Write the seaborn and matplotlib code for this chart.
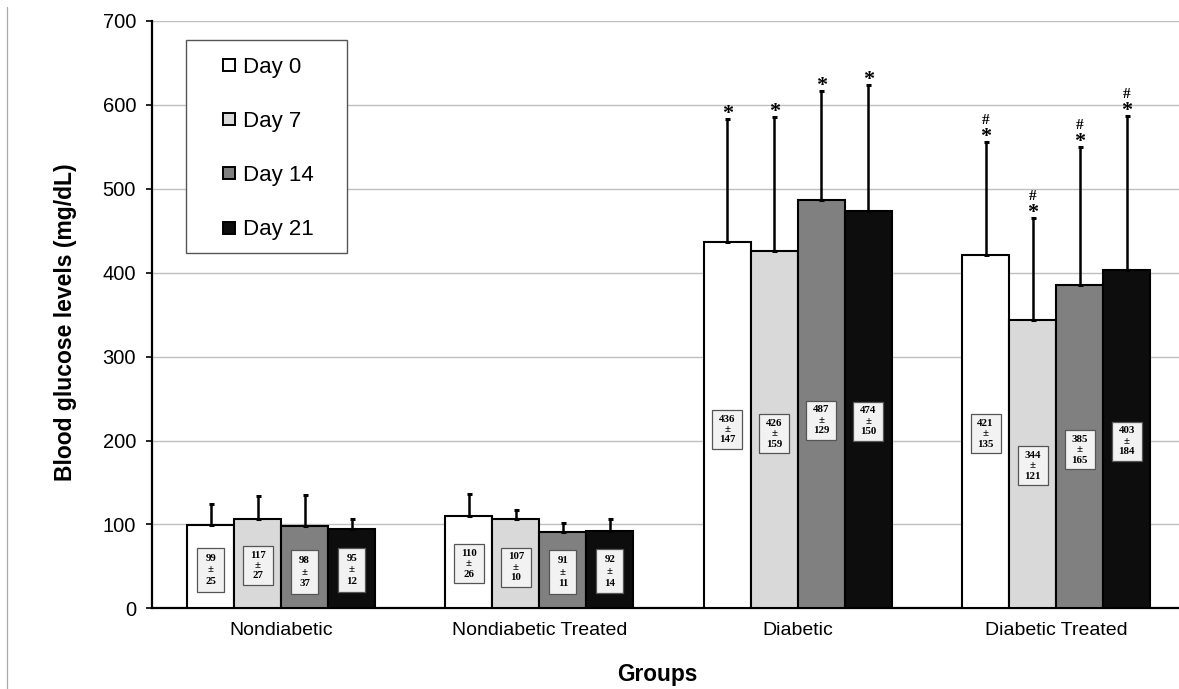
import matplotlib
matplotlib.use("Agg")
import matplotlib.pyplot as plt
import matplotlib.transforms as mtransforms
from matplotlib.lines import Line2D
from matplotlib.patches import Rectangle
import seaborn as sns
import pandas as pd
import numpy as np

# ---- data ----
groups = ["Nondiabetic", "Nondiabetic Treated", "Diabetic", "Diabetic Treated"]
days = ["Day 0", "Day 7", "Day 14", "Day 21"]

mean_day0 = [99, 110, 436, 421]
mean_day7 = [107, 107, 426, 344]
mean_day14 = [98, 91, 487, 385]
mean_day21 = [95, 92, 474, 403]

sd_day0 = [25, 26, 147, 135]
sd_day7 = [27, 10, 159, 121]
sd_day14 = [37, 11, 129, 165]
sd_day21 = [12, 14, 150, 184]

# values printed in the boxes
printed_day0 = [99, 110, 436, 421]
printed_day7 = [117, 107, 426, 344]
printed_day14 = [98, 91, 487, 385]
printed_day21 = [95, 92, 474, 403]

# significance marks: asterisk (vs nondiabetic) and hash (vs diabetic)
star_day0 = [False, False, True, True]
star_day7 = [False, False, True, True]
star_day14 = [False, False, True, True]
star_day21 = [False, False, True, True]
hash_day0 = [False, False, False, True]
hash_day7 = [False, False, False, True]
hash_day14 = [False, False, False, True]
hash_day21 = [False, False, False, True]

# vertical placement of the value boxes (data units)
box_y_day0 = [46, 53, 213, 208]
box_y_day7 = [51, 49, 208, 170]
box_y_day14 = [43, 43, 224, 189]
box_y_day21 = [46, 44, 223, 199]

colors = ["#ffffff", "#d9d9d9", "#808080", "#0d0d0d"]

means = [mean_day0, mean_day7, mean_day14, mean_day21]
sds = [sd_day0, sd_day7, sd_day14, sd_day21]
printed = [printed_day0, printed_day7, printed_day14, printed_day21]
stars = [star_day0, star_day7, star_day14, star_day21]
hashes = [hash_day0, hash_day7, hash_day14, hash_day21]
box_ys = [box_y_day0, box_y_day7, box_y_day14, box_y_day21]

rows = []
for d, m in zip(days, means):
    for g, v in zip(groups, m):
        rows.append({"group": g, "day": d, "value": v})
df = pd.DataFrame(rows)

# ---- style ----
sns.set_style("white")
plt.rcParams["font.family"] = ["Liberation Sans", "DejaVu Sans"]
for k in ["text.color", "axes.labelcolor", "xtick.color", "ytick.color"]:
    plt.rcParams[k] = "black"

serif = ["Liberation Serif", "DejaVu Serif"]

W, H = 1179, 689
DPI = 100
fig = plt.figure(figsize=(W / DPI, H / DPI), dpi=DPI)
ax = fig.add_axes([152 / W, (H - 608.3) / H, (W - 152) / W, (608.3 - 21) / H])

sns.barplot(data=df, x="group", y="value", hue="day", order=groups, hue_order=days,
            palette=colors, edgecolor="black", linewidth=1.5, width=0.728,
            errorbar=None, legend=False, ax=ax, saturation=1, zorder=3)

bar_containers = list(ax.containers)
for ci, cont in enumerate(bar_containers):
    for gi, bar in enumerate(cont.patches):
        xc = bar.get_x() + bar.get_width() / 2
        h = bar.get_height()
        sd = sds[ci][gi]
        ax.errorbar([xc], [h], yerr=[[0], [sd]], fmt="none", ecolor="black",
                    elinewidth=1.8, capsize=1.8, capthick=2.2, zorder=4)
        # value box (fixed pixel size, centred on the label position)
        yb = box_ys[ci][gi]
        three = printed[ci][gi] >= 100
        bw, bh = (30, 39) if three else (27, 44)
        trans = fig.dpi_scale_trans + mtransforms.ScaledTranslation(xc, yb, ax.transData)
        ax.add_patch(Rectangle((-bw / 2 / DPI, -bh / 2 / DPI), bw / DPI, bh / DPI,
                               transform=trans, facecolor="#f2f2f2",
                               edgecolor="#555555", linewidth=0.9, zorder=5))
        ax.text(xc, yb, f"{printed[ci][gi]}\n±\n{sds[ci][gi]}",
                ha="center", va="center", fontsize=7.8, fontweight="bold",
                family=serif, linespacing=1.2 if three else 1.38, zorder=6)
        if stars[ci][gi]:
            ax.annotate("*", (xc, h + sd), xytext=(0, 0), textcoords="offset points",
                        ha="center", va="baseline", fontsize=16, fontweight="bold",
                        family=serif, zorder=5)
        if hashes[ci][gi]:
            ax.annotate("#", (xc, h + sd), xytext=(0, 13), textcoords="offset points",
                        ha="center", va="baseline", fontsize=11, fontweight="bold",
                        family=serif, zorder=5)

ax.set_xlim(-0.5, 3.476)
ax.set_ylim(0, 700)
ax.set_yticks(np.arange(0, 701, 100))
ax.yaxis.grid(True, color="#c0c0c0", linewidth=1)
ax.set_axisbelow(True)
for s in ["top", "right"]:
    ax.spines[s].set_visible(False)
ax.spines["left"].set_color("black")
ax.spines["left"].set_linewidth(1.6)
ax.spines["bottom"].set_color("black")
ax.spines["bottom"].set_linewidth(1.6)
ax.tick_params(axis="y", length=4.5, width=1.2, color="black", pad=7, labelsize=14.5,
               left=True)
ax.tick_params(axis="x", length=0, pad=10, labelsize=14)
ax.set_xlabel("")
ax.set_ylabel("")

fig.text(66 / W, (H - 322) / H, "Blood glucose levels (mg/dL)", rotation=90,
         ha="center", va="center", fontsize=16.5, fontweight="bold")
fig.text(657.5 / W, (H - 675) / H, "Groups", ha="center", va="center",
         fontsize=16.3, fontweight="bold")

# legend
handles = [Line2D([], [], linestyle="none", marker="s", markersize=8.5,
                  markerfacecolor=c, markeredgecolor="black", markeredgewidth=1.4)
           for c in colors]
fig.legend(handles, days, loc="upper left", bbox_to_anchor=(222 / W, (H - 56.5) / H),
           bbox_transform=fig.transFigure, frameon=False, fontsize=16,
           handlelength=0.6, handletextpad=0.35, labelspacing=1.5, borderpad=0,
           borderaxespad=0)
fig.add_artist(Rectangle((186 / W, (H - 252.7) / H), 161 / W, 212.7 / H,
                         transform=fig.transFigure, facecolor="white",
                         edgecolor="#555555", linewidth=1, zorder=1))

# thin border line at left edge
fig.add_artist(Line2D([7.5 / W, 7.5 / W], [0, 1 - 7 / H], color="#aaaaaa",
                      linewidth=0.9, transform=fig.transFigure))

fig.savefig("out.png", dpi=DPI)
